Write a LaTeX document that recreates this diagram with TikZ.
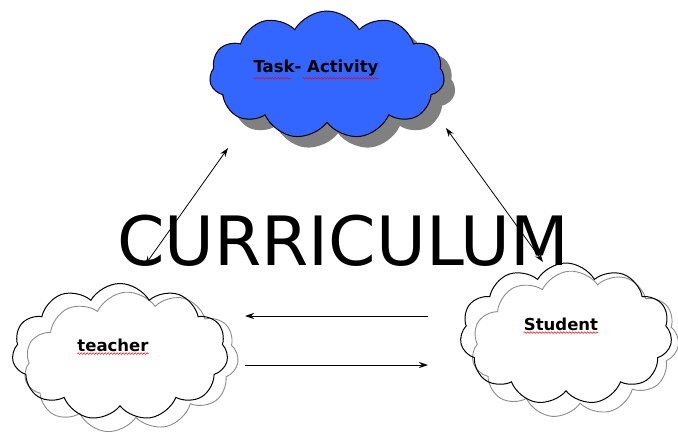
\documentclass[tikz,border=0pt]{standalone}
\usepackage{fontspec}
\setmainfont{DejaVu Sans}
\usetikzlibrary{shapes.symbols,arrows.meta,decorations.pathmorphing}
\definecolor{taskblue}{RGB}{51,102,255}
\definecolor{shadowgray}{RGB}{128,128,128}
\tikzset{
  cloudbase/.style={cloud, cloud ignores aspect, inner sep=0pt},
  label/.style={font=\bfseries\fontsize{16.5}{19}\selectfont, inner sep=0pt},
  squiggle/.style={draw=red, line width=0.5pt, decorate, decoration={snake, amplitude=0.8pt, segment length=3pt}},
  link/.style={line width=0.8pt, {Stealth[length=9pt,width=6pt]}-{Stealth[length=9pt,width=6pt]}},
  onelink/.style={line width=0.8pt, -{Stealth[length=9pt,width=6pt]}}
}
\begin{document}
\begin{tikzpicture}[x=1pt,y=-1pt]
\useasboundingbox (0,0) rectangle (678,434);
% Task cloud with shadow
\node[cloudbase, cloud puffs=11, cloud puff arc=120, fill=shadowgray, minimum width=235, minimum height=128] (taskshadow) at (338,86) {};
\node[cloudbase, cloud puffs=11, cloud puff arc=120, draw=black, line width=1pt, fill=taskblue, minimum width=235, minimum height=128] (task) at (327,75) {};
\node[label] (tasktxt) at (316,68) {Task- Activity};
% teacher clouds
\node[cloudbase, cloud puffs=11, cloud puff arc=120, draw=black!45, line width=0.9pt, fill=white, rotate=5, minimum width=215, minimum height=140] (teachergray) at (131,362) {};
\node[cloudbase, cloud puffs=11, cloud puff arc=120, draw=black, line width=1pt, minimum width=216, minimum height=137] (teacher) at (120,352) {};
\node[label] (teachertxt) at (113,345) {teacher};
% student clouds
\node[cloudbase, cloud puffs=11, cloud puff arc=120, draw=black!45, line width=0.9pt, fill=white, rotate=5, minimum width=208, minimum height=146] (studentgray) at (575,344) {};
\node[cloudbase, cloud puffs=11, cloud puff arc=120, draw=black, line width=1pt, minimum width=212, minimum height=142] (student) at (566,334) {};
\node[label] (studenttxt) at (561,324) {Student};
% squiggles
\draw[squiggle] ([yshift=-2pt]tasktxt.south west) -- ([yshift=-2pt,xshift=-88pt]tasktxt.south east);
\draw[squiggle] ([yshift=-2pt,xshift=-76pt]tasktxt.south east) -- ([yshift=-2pt]tasktxt.south east);
\draw[squiggle] ([yshift=-2pt]teachertxt.south west) -- ([yshift=-2pt]teachertxt.south east);
\draw[squiggle] ([yshift=-2pt]studenttxt.south west) -- ([yshift=-2pt]studenttxt.south east);
% title
\node[font=\fontsize{68}{80}\selectfont, inner sep=0pt, anchor=base] (curr) at (343,265) {CURRICULUM};
% arrows
\coordinate (a1) at (228,148);
\coordinate (a2) at (145,265);
\coordinate (b1) at (446,128);
\coordinate (b2) at (543,262);
\coordinate (c1) at (428,316);
\coordinate (c2) at (245,316);
\coordinate (d1) at (245,365);
\coordinate (d2) at (428,365);
\draw[link] (a1) -- (a2);
\draw[link] (b1) -- (b2);
\draw[onelink] (c1) -- (c2);
\draw[onelink] (d1) -- (d2);
\end{tikzpicture}
\end{document}
